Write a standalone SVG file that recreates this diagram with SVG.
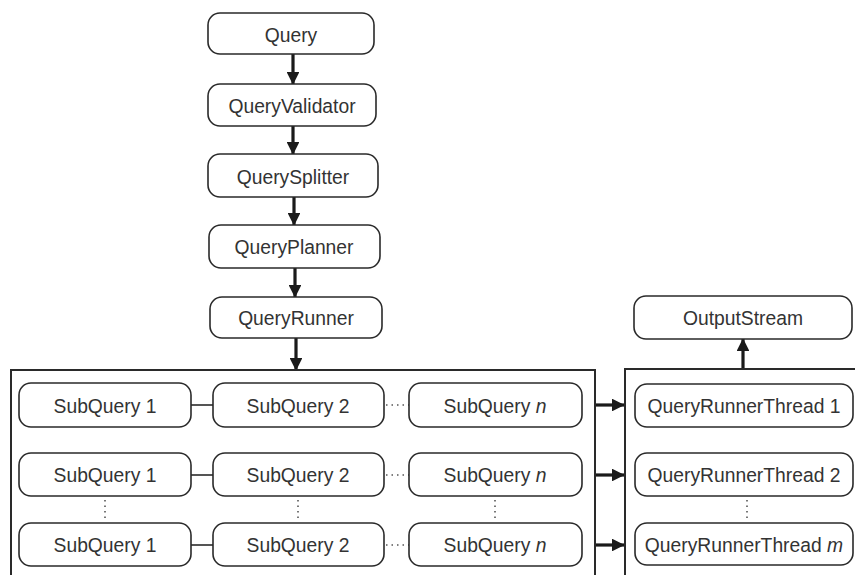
<svg xmlns="http://www.w3.org/2000/svg" width="855" height="575" viewBox="0 0 855 575">
<defs>
<style>
.box{fill:#fff;stroke:#2a2a2a;stroke-width:1.6}
.frame{fill:none;stroke:#2a2a2a;stroke-width:2}
.t{font-family:"Liberation Sans",Arial,sans-serif;font-size:19.3px;fill:#333;text-anchor:middle}
.arr{stroke:#1a1a1a;stroke-width:3.2;fill:none}
.link{stroke:#2a2a2a;stroke-width:1.6;fill:none}
.dot{stroke:#555;stroke-width:1.6;fill:none;stroke-dasharray:1.5 4}
</style>
<marker id="ah" viewBox="0 0 10 10" refX="9.5" refY="5" markerWidth="4" markerHeight="4" markerUnits="strokeWidth" orient="auto">
<path d="M0,0 L10,5 L0,10 Z" fill="#1a1a1a"/>
</marker>
</defs>
<rect width="855" height="575" fill="#fff"/>
<g id="connectors">
<line class="arr" x1="293" y1="54" x2="293" y2="84" marker-end="url(#ah)"/>
<line class="arr" x1="293" y1="126" x2="293" y2="154" marker-end="url(#ah)"/>
<line class="arr" x1="294" y1="197" x2="294" y2="225" marker-end="url(#ah)"/>
<line class="arr" x1="295" y1="268" x2="295" y2="297" marker-end="url(#ah)"/>
<line class="arr" x1="296" y1="338" x2="296" y2="370" marker-end="url(#ah)"/>
<line class="arr" x1="743" y1="369" x2="743" y2="339" marker-end="url(#ah)"/>
<line class="arr" x1="596" y1="405" x2="624" y2="405" marker-end="url(#ah)"/>
<line class="arr" x1="596" y1="475" x2="624" y2="475" marker-end="url(#ah)"/>
<line class="arr" x1="596" y1="545" x2="624" y2="545" marker-end="url(#ah)"/>
<line class="link" x1="191" y1="405" x2="213" y2="405"/>
<line class="link" x1="191" y1="475" x2="213" y2="475"/>
<line class="link" x1="191" y1="545" x2="213" y2="545"/>
<line class="dot" x1="386" y1="405" x2="409" y2="405"/>
<line class="dot" x1="386" y1="475" x2="409" y2="475"/>
<line class="dot" x1="386" y1="545" x2="409" y2="545"/>
<line class="dot" x1="105" y1="500" x2="105" y2="520"/>
<line class="dot" x1="298" y1="500" x2="298" y2="520"/>
<line class="dot" x1="495" y1="500" x2="495" y2="520"/>
<line class="dot" x1="747" y1="500" x2="747" y2="520"/>
</g>
<g id="query"><rect class="box" x="208" y="13" width="166" height="41" rx="12"/><text class="t" x="291" y="42">Query</text></g>
<g id="queryValidator"><rect class="box" x="208" y="84" width="168" height="42" rx="12"/><text class="t" x="292" y="113">QueryValidator</text></g>
<g id="querySplitter"><rect class="box" x="208" y="154" width="170" height="43" rx="12"/><text class="t" x="293" y="184">QuerySplitter</text></g>
<g id="queryPlanner"><rect class="box" x="209" y="225" width="171" height="43" rx="12"/><text class="t" x="294" y="254">QueryPlanner</text></g>
<g id="queryRunner"><rect class="box" x="210" y="297" width="172" height="41" rx="12"/><text class="t" x="296" y="325">QueryRunner</text></g>
<g id="outputStream"><rect class="box" x="634" y="296" width="218" height="43" rx="12"/><text class="t" x="743" y="325">OutputStream</text></g>
<g id="subqueryFrame"><rect class="frame" x="11" y="370" width="584" height="215"/></g>
<g id="threadFrame"><rect class="frame" x="625" y="369" width="245" height="216"/></g>
<g id="sq1a"><rect class="box" x="19" y="383" width="172" height="44" rx="12"/><text class="t" x="105" y="413">SubQuery 1</text></g>
<g id="sq2a"><rect class="box" x="213" y="383" width="171" height="44" rx="12"/><text class="t" x="298" y="413">SubQuery 2</text></g>
<g id="sqna"><rect class="box" x="409" y="383" width="173" height="44" rx="12"/><text class="t" x="495" y="413">SubQuery <tspan font-style="italic">n</tspan></text></g>
<g id="sq1b"><rect class="box" x="19" y="453" width="172" height="43" rx="12"/><text class="t" x="105" y="482">SubQuery 1</text></g>
<g id="sq2b"><rect class="box" x="213" y="453" width="171" height="43" rx="12"/><text class="t" x="298" y="482">SubQuery 2</text></g>
<g id="sqnb"><rect class="box" x="409" y="453" width="173" height="43" rx="12"/><text class="t" x="495" y="482">SubQuery <tspan font-style="italic">n</tspan></text></g>
<g id="sq1c"><rect class="box" x="19" y="523" width="172" height="43" rx="12"/><text class="t" x="105" y="552">SubQuery 1</text></g>
<g id="sq2c"><rect class="box" x="213" y="523" width="171" height="43" rx="12"/><text class="t" x="298" y="552">SubQuery 2</text></g>
<g id="sqnc"><rect class="box" x="409" y="523" width="173" height="43" rx="12"/><text class="t" x="495" y="552">SubQuery <tspan font-style="italic">n</tspan></text></g>
<g id="thread1"><rect class="box" x="635" y="384" width="218" height="43" rx="12"/><text class="t" x="744" y="413">QueryRunnerThread 1</text></g>
<g id="thread2"><rect class="box" x="635" y="453" width="218" height="43" rx="12"/><text class="t" x="744" y="482">QueryRunnerThread 2</text></g>
<g id="threadm"><rect class="box" x="635" y="523" width="218" height="42" rx="12"/><text class="t" x="744" y="552">QueryRunnerThread <tspan font-style="italic">m</tspan></text></g>
</svg>
